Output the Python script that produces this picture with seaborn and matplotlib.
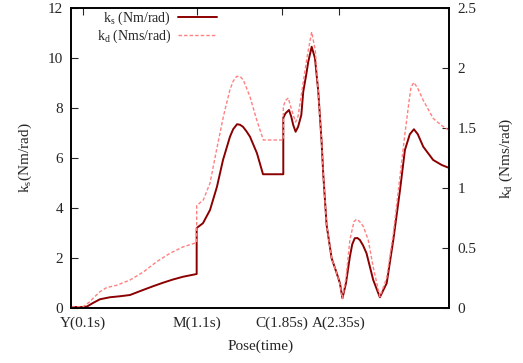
import numpy as np
import pandas as pd
import seaborn as sns
import matplotlib
matplotlib.use("Agg")
import matplotlib.pyplot as plt

# stiffness k_s (Nm/rad) vs time (s)
ks_time = [0.0, 0.103, 0.138, 0.19, 0.252, 0.339, 0.427, 0.515, 0.629, 0.717,
           0.804, 0.892, 0.98, 1.1, 1.1, 1.155, 1.217, 1.278, 1.331, 1.392,
           1.42, 1.454, 1.48, 1.506, 1.535, 1.568, 1.629, 1.682, 1.86, 1.86,
           1.88, 1.91, 1.93, 1.947, 1.968, 1.99, 2.018, 2.035, 2.06, 2.079,
           2.109, 2.138, 2.167, 2.196, 2.211, 2.24, 2.284, 2.328, 2.357, 2.379,
           2.41, 2.444, 2.465, 2.487, 2.51, 2.532, 2.56, 2.59, 2.649, 2.707,
           2.767, 2.825, 2.884, 2.927, 2.97, 3.006, 3.04, 3.088, 3.175, 3.25,
           3.316]
ks_vals = [0.04, 0.04, 0.06, 0.2, 0.35, 0.43, 0.47, 0.52, 0.72, 0.87,
           1.01, 1.14, 1.25, 1.36, 3.2, 3.39, 3.92, 4.85, 5.92, 6.85,
           7.15, 7.35, 7.33, 7.25, 7.08, 6.85, 6.19, 5.35, 5.35, 7.61,
           7.79, 7.92, 7.65, 7.32, 7.05, 7.25, 7.72, 8.65, 9.3, 9.85,
           10.45, 9.99, 8.65, 6.65, 5.32, 3.32, 1.99, 1.4, 0.99, 0.39,
           1.0, 2.05, 2.55, 2.79, 2.8, 2.72, 2.5, 2.19, 1.12, 0.43,
           0.99, 2.72, 4.72, 6.32, 6.95, 7.15, 6.95, 6.45, 5.92, 5.72,
           5.6]

# damping k_d (Nms/rad) vs time (s)
kd_time = [0.0, 0.103, 0.16, 0.19, 0.252, 0.31, 0.4, 0.515, 0.632, 0.749,
           0.866, 0.982, 1.1, 1.1, 1.158, 1.217, 1.275, 1.333, 1.392, 1.42,
           1.451, 1.48, 1.509, 1.568, 1.626, 1.685, 1.86, 1.86, 1.88, 1.904,
           1.93, 1.968, 1.99, 2.03, 2.07, 2.109, 2.14, 2.167, 2.196, 2.211,
           2.24, 2.284, 2.328, 2.357, 2.379, 2.41, 2.444, 2.48, 2.503, 2.53,
           2.562, 2.605, 2.649, 2.707, 2.767, 2.825, 2.884, 2.927, 2.96, 2.98,
           3.006, 3.04, 3.088, 3.175, 3.25, 3.316]
kd_vals = [0.01, 0.01, 0.05, 0.08, 0.136, 0.17, 0.19, 0.233, 0.30, 0.386,
           0.456, 0.51, 0.545, 0.853, 0.9, 1.04, 1.32, 1.59, 1.82, 1.89,
           1.93, 1.93, 1.9, 1.76, 1.57, 1.40, 1.40, 1.68, 1.73, 1.75,
           1.66, 1.55, 1.6, 1.85, 2.1, 2.30, 2.15, 1.80, 1.385, 1.11,
           0.69, 0.415, 0.29, 0.2, 0.08, 0.25, 0.567, 0.72, 0.74, 0.72,
           0.68, 0.567, 0.34, 0.094, 0.25, 0.62, 1.1, 1.45, 1.7, 1.84,
           1.88, 1.83, 1.73, 1.58, 1.52, 1.48]

pose_ticks = [0.1, 1.1, 1.85, 2.35]
pose_labels = ["Y(0.1s)", "M(1.1s)", "C(1.85s)", "A(2.35s)"]

sns.set_style("white")
plt.rcParams["font.family"] = ["Liberation Serif", "DejaVu Serif"]
plt.rcParams["mathtext.fontset"] = "custom"
plt.rcParams["mathtext.rm"] = "Liberation Serif"
plt.rcParams["font.size"] = 11

ks_df = pd.DataFrame({"t": ks_time, "v": ks_vals})
kd_df = pd.DataFrame({"t": kd_time, "v": kd_vals})

fig = plt.figure(figsize=(5.23, 3.63), dpi=100)
ax = fig.add_axes([0.1363, 0.1515, 0.7227, 0.8265])
ax2 = ax.twinx()

sns.lineplot(data=ks_df, x="t", y="v", ax=ax, estimator=None, sort=False,
             color="#8b0000", linewidth=1.4, label=r"k$_\mathrm{s}$ (Nm/rad)",
             legend=False)
sns.lineplot(data=kd_df, x="t", y="v", ax=ax2, estimator=None, sort=False,
             color="#ff8080", linewidth=1.0, linestyle=(0, (2.5, 1.5)),
             label=r"k$_\mathrm{d}$ (Nms/rad)", legend=False)

ax.set_xlim(0, 3.316)
ax.set_ylim(0, 12)
ax2.set_ylim(0, 2.5)
ax.set_xticks(pose_ticks)
ax.set_xticklabels(pose_labels)
ax.set_yticks(range(0, 13, 2))
ax2.set_yticks([0, 0.5, 1, 1.5, 2, 2.5])
ax2.set_yticklabels(["0", "0.5", "1", "1.5", "2", "2.5"])

ax.tick_params(axis="x", direction="in", top=True, length=5, width=0.8, pad=6)
ax.tick_params(axis="y", direction="in", left=True, right=False, length=5, width=0.8, pad=6)
ax2.tick_params(axis="y", direction="in", right=True, length=5, width=0.8, pad=6)

for a in (ax, ax2):
    for s in a.spines.values():
        s.set_color("black")
        s.set_linewidth(1.2)

ax.set_xlabel("Pose(time)", labelpad=7)
ax.set_ylabel(r"k$_\mathrm{s}$(Nm/rad)", labelpad=10)
ax2.set_ylabel(r"k$_\mathrm{d}$ (Nms/rad)", labelpad=15, rotation=90)

h1, l1 = ax.get_legend_handles_labels()
h2, l2 = ax2.get_legend_handles_labels()
ax2.legend(h1 + h2, l1 + l2, loc="upper left", bbox_to_anchor=(0.034, 1.035),
           frameon=False, markerfirst=False, handlelength=2.8,
           handletextpad=0.5, labelspacing=0.0, fontsize=10)

fig.savefig("out.png", dpi=100)
